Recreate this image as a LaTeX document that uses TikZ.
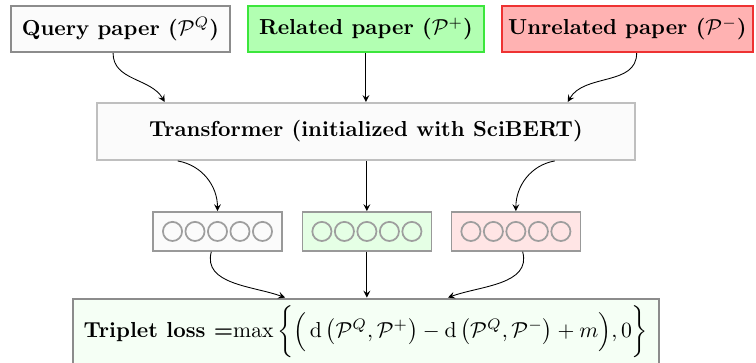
\documentclass[tikz,border=0pt]{standalone}
\usepackage{amsmath}
\usetikzlibrary{arrows}

\definecolor{relgreen}{RGB}{60,230,60}
\definecolor{unrred}{RGB}{238,50,50}

\begin{document}
\begin{tikzpicture}[
  paperbox/.style={draw, line width=1pt, minimum height=0.745cm, inner sep=2pt},
  vecbox/.style={draw=black!40, thick, minimum width=2.09cm, minimum height=0.63cm},
  circ/.style={draw=black!38, thick},
  flow/.style={-stealth, thin}
]
\useasboundingbox (0,0) rectangle (12.25,-5.88);

% input papers
\node[paperbox, draw=black!45, fill=gray!3, minimum width=3.55cm] (query) at (1.952,-0.470) {\textbf{Query paper ($\mathcal{P}^{Q}$)}};
\node[paperbox, draw=relgreen, fill=green!30, minimum width=3.82cm] (related) at (5.929,-0.470) {\textbf{Related paper ($\mathcal{P}^{+}$)}};
\node[paperbox, draw=unrred, fill=red!30, minimum width=4.07cm] (unrelated) at (10.166,-0.470) {\textbf{Unrelated paper ($\mathcal{P}^{-}$)}};

% encoder
\node[draw=black!25, line width=1pt, fill=gray!3, minimum width=8.72cm, minimum height=0.92cm] (transformer) at (5.929,-2.130) {\textbf{Transformer (initialized with SciBERT)}};

% embeddings
\node[vecbox, fill=gray!3] (vq) at (3.524,-3.750) {};
\node[vecbox, fill=green!10] (vr) at (5.945,-3.750) {};
\node[vecbox, fill=red!10] (vu) at (8.359,-3.750) {};
\foreach \v in {vq,vr,vu}
  \foreach \i in {-2,...,2}
    \draw[circ] ([xshift=\i*0.3645cm]\v.center) circle (0.155);

% loss
\node[draw=black!45, line width=1pt, fill=green!4, minimum width=9.49cm, minimum height=0.94cm] (loss) at (5.929,-5.378) {\textbf{Triplet loss =}$\max\bigg\{\Big(\,\mathrm{d}\left(\mathcal{P}^{Q},\mathcal{P}^{+}\right)-\mathrm{d}\left(\mathcal{P}^{Q},\mathcal{P}^{-}\right)+m\Big),0\bigg\}$};

\draw[flow] ([xshift=-0.12cm]query.south) to[out=-90,in=120] ([xshift=-3.26cm]transformer.north);
\draw[flow] (related.south) -- (transformer.north);
\draw[flow] ([xshift=0.15cm]unrelated.south) to[out=-90,in=60] ([xshift=3.27cm]transformer.north);

\draw[flow] ([xshift=-3.05cm]transformer.south) to[out=-10,in=90] (vq.north);
\draw[flow] (transformer.south -| vr.north) -- (vr.north);
\draw[flow] ([xshift=3.06cm]transformer.south) to[out=190,in=90] (vu.north);

\draw[flow] ([xshift=-0.1cm]vq.south) to[out=-105,in=160] ([xshift=-1.31cm]loss.north);
\draw[flow] (vr.south) -- (vr.south |- loss.north);
\draw[flow] ([xshift=0.11cm]vu.south) to[out=-75,in=20] ([xshift=1.33cm]loss.north);
\end{tikzpicture}
\end{document}
